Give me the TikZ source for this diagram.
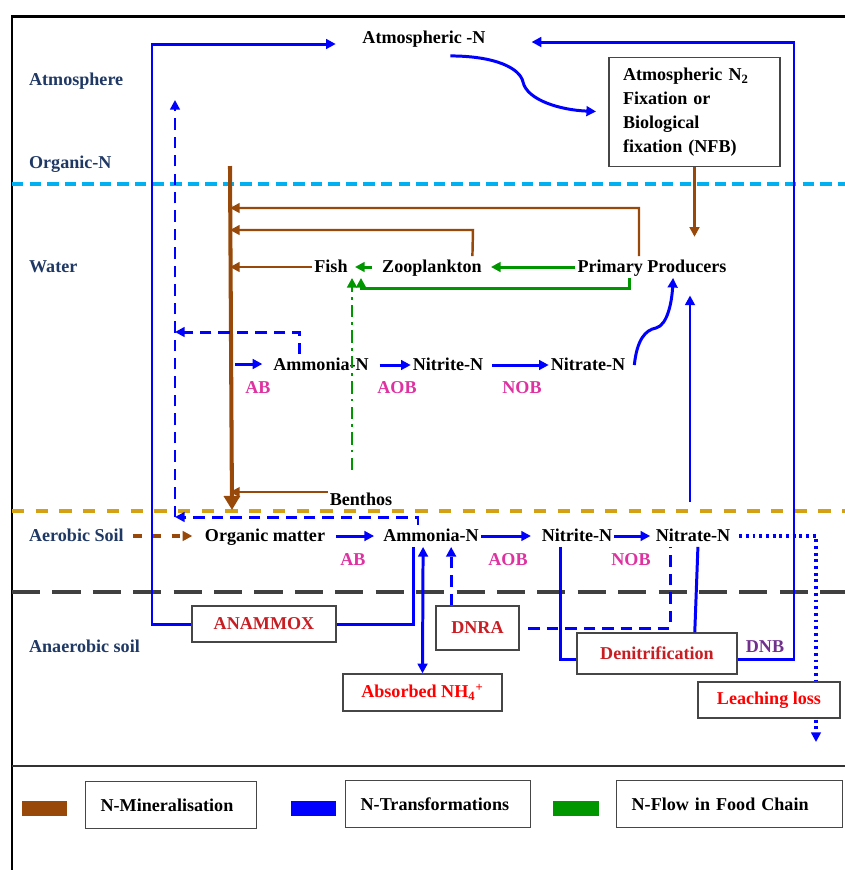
\documentclass[tikz,border=0pt]{standalone}
\usepackage{fontspec}
\setmainfont{Liberation Serif}
\usetikzlibrary{arrows.meta}

\definecolor{zoneblue}{RGB}{31,56,100}
\definecolor{bactpink}{RGB}{222,50,160}
\definecolor{minbrown}{RGB}{152,72,8}
\definecolor{fcgreen}{RGB}{0,150,0}
\definecolor{skycyan}{RGB}{0,176,240}
\definecolor{soilgold}{RGB}{212,160,20}
\definecolor{darkred}{RGB}{200,30,35}
\definecolor{dnbpurple}{RGB}{112,48,140}
\definecolor{boxgray}{RGB}{70,70,70}

\tikzset{
  lbl/.style={font=\bfseries\fontsize{10.3}{12}\selectfont, inner sep=1pt, text height=8pt, text depth=2pt},
  zone/.style={lbl, text=zoneblue, anchor=west},
  bact/.style={lbl, text=bactpink},
  procbox/.style={draw=boxgray, line width=0.75pt, fill=white, font=\bfseries\fontsize{10.3}{12}\selectfont, inner sep=1pt},
  legbox/.style={draw=boxgray, line width=0.75pt, anchor=north west, minimum height=0.94cm, align=left, inner xsep=0.3cm, font=\bfseries\fontsize{10.3}{12}\selectfont},
  tr/.style={blue, line width=1.7pt},
  trdash/.style={tr, dash pattern=on 6.5pt off 4pt},
  trdot/.style={tr, line width=2pt, dash pattern=on 1.6pt off 2.2pt},
  mn/.style={minbrown, line width=1.4pt},
  fc/.style={fcgreen, line width=1.7pt},
  arrowed/.style={-{Triangle[length=5.5pt,width=5.5pt]}},
  bothways/.style={{Triangle[length=5.5pt,width=5.5pt]}-{Triangle[length=5.5pt,width=5.5pt]}},
}

\begin{document}
\begin{tikzpicture}[x=0.02cm, y=-0.02cm]
\useasboundingbox (0,0) rectangle (845,870);

% ramka
\draw[line width=1.7pt] (845,16) -- (12,16) -- (12,870);
\draw[line width=1.3pt, black!80] (12,766) -- (845,766);

% granice warstw
\draw[skycyan, line width=2.3pt, dash pattern=on 6.5pt off 3.5pt] (12,184) -- (845,184);
\draw[soilgold, line width=2.3pt, dash pattern=on 7pt off 6.5pt] (12,511) -- (845,511);
\draw[black!75, line width=2.3pt, dash pattern=on 16pt off 7pt] (12,592) -- (845,592);

% ---------- Warstwy ----------
\node[zone] (zAtm) at (27,80) {Atmosphere};
\node[zone] (zOrg) at (27,163) {Organic-N};
\node[zone] (zWat) at (27,267) {Water};
\node[zone] (zAer) at (27,536) {Aerobic Soil};
\node[zone] (zAna) at (27,647) {Anaerobic soil};

% ---------- Atmosfera ----------
\node[lbl] (atmN) at (424,38) {Atmospheric -N};
\node[procbox, minimum width=3.42cm, minimum height=2.18cm, align=left, text width=2.86cm, inner xsep=0.28cm,
      font=\bfseries\fontsize{10.3}{13.6}\selectfont] (nfb) at (694.5,112)
  {Atmospheric N\textsubscript{2}\\Fixation or\\Biological\\fixation (NFB)};

% ---------- Woda ----------
\node[lbl] (fish) at (331,267) {Fish};
\node[lbl] (zoo) at (432,267) {Zooplankton};
\node[lbl] (pp) at (652,267) {Primary Producers};
\node[lbl] (amW) at (321,365) {Ammonia-N};
\node[lbl] (niW) at (448,365) {Nitrite-N};
\node[lbl] (naW) at (588,365) {Nitrate-N};
\node[bact] (abW) at (258,388) {AB};
\node[bact] (aobW) at (397,388) {AOB};
\node[bact] (nobW) at (522,388) {NOB};
\node[lbl] (benthos) at (361,500) {Benthos};

% ---------- Gleba ----------
\node[lbl] (om) at (265,536) {Organic matter};
\node[lbl] (amS) at (431,536) {Ammonia-N};
\node[lbl] (niS) at (577,536) {Nitrite-N};
\node[lbl] (naS) at (693,536) {Nitrate-N};
\node[bact] (abS) at (353,560) {AB};
\node[bact] (aobS) at (508,560) {AOB};
\node[bact] (nobS) at (631,560) {NOB};
\node[lbl, text=dnbpurple] (dnb) at (765,647) {DNB};

\node[procbox, minimum width=2.88cm, minimum height=0.72cm, text=darkred] (anammox) at (264,624) {ANAMMOX};
\node[procbox, minimum width=1.66cm, minimum height=0.88cm, text=darkred] (dnra) at (477.5,628) {DNRA};
\node[procbox, minimum width=3.18cm, minimum height=0.74cm, text=red] (absorbed) at (422.5,692.5)
  {Absorbed NH\textsubscript{4}\textsuperscript{+}};
\node[procbox, minimum width=3.2cm, minimum height=0.82cm, text=darkred] (denit) at (657,653.5) {Denitrification};

% ---------- Mineralizacja ----------
\coordinate (minTop) at (230,166);
\coordinate (minBot) at (232,510);
\draw[mn, line width=2.3pt, -{Triangle[length=8pt,width=9pt]}] (minTop) -- (minBot);
\coordinate (ppUp) at (639,208);
\draw[mn, arrowed] ([xshift=-7.4pt]pp.north) -- (ppUp) -- (ppUp -| minTop);
\coordinate (zooUp) at (473,230);
\draw[mn, arrowed] ([xshift=23pt]zoo.north) -- (zooUp) -- (zooUp -| minTop);
\draw[mn, arrowed] (fish.west) -- (fish.west -| minTop);
\coordinate (bIn) at ([yshift=4.5pt]benthos.west);
\draw[mn, arrowed] (bIn) -- (bIn -| minTop);
\draw[mn, arrowed, shorten >=11pt] (nfb.south) -- (nfb.south |- pp.north);
\draw[mn, line width=2.3pt, arrowed, dash pattern=on 5pt off 6pt, shorten <=4pt, shorten >=6pt] (zAer.east) -- (om.west);

% ---------- Przemiany N ----------
\coordinate (topL) at (152,44);
\coordinate (topR) at (794,42);
\draw[tr, arrowed, shorten >=14pt] (anammox.west) -| (topL) -- (topL -| atmN.west);
\draw[tr, arrowed, shorten >=25pt] ([yshift=-3.5pt]denit.east) -| (topR) -- (topR -| atmN.east);
\draw[tr, arrowed, shorten >=7pt] ([xshift=15pt,yshift=-4pt]atmN.south)
  .. controls (495,56) and (520,68) .. (523,82)
  .. controls (527,100) and (560,110) .. (nfb.west);
\draw[tr, arrowed] ([xshift=4pt]naW.east)
  .. controls (637,340) and (645,330) .. (656,328)
  .. controls (668,325) and (672,300) .. ([xshift=12pt]pp.south);
\coordinate (ppFeed) at (690,502);
\draw[tr, arrowed, shorten >=10pt] (ppFeed) -- (ppFeed |- pp.south);

% lancuch w wodzie
\coordinate (amWin) at (235,364);
\draw[tr, arrowed, shorten >=5pt] (amWin) -- (amWin -| amW.west);
\draw[tr, arrowed, shorten <=5pt] (amW.east) -- (niW.west);
\draw[tr, arrowed, shorten <=4pt] (niW.east) -- (naW.west);

% lancuch w glebie
\draw[tr, arrowed, shorten <=5pt, shorten >=4pt] (om.east) -- (amS.west);
\draw[tr, arrowed, shorten >=5pt] (amS.east) -- (niS.west);
\draw[tr, arrowed, shorten >=2pt] (niS.east) -- (naS.west);

\draw[tr] ([xshift=-10pt]amS.south) |- (anammox.east);
\draw[tr, bothways] ([xshift=-4.5pt]amS.south) -- (absorbed.north);
\coordinate (dnraUp) at ([xshift=-15pt]dnra.north);
\draw[trdash, arrowed] (dnraUp) -- (dnraUp |- amS.south);
\coordinate (dnraNa) at ([xshift=-13pt]naS.south);
\draw[trdash, shorten <=5pt] (dnra.east) -| (dnraNa);
\draw[tr] ([xshift=-9.6pt]niS.south) |- ([yshift=-3.5pt]denit.west);
\draw[tr] ([xshift=2.8pt]naS.south) -- ([xshift=21.5pt]denit.north);
\coordinate (leachOut) at (816,742);
\draw[trdot, arrowed, shorten <=4pt] (naS.east) -| (leachOut);
\node[procbox, minimum width=2.84cm, minimum height=0.72cm, text=red] (leach) at (769,700) {Leaching loss};

% powrot do atmosfery
\coordinate (retTop) at (175,100);
\coordinate (retMid) at (175,332);
\coordinate (retBot) at (175,517);
\draw[trdash, arrowed] (retBot) -- (retTop);
\draw[trdash, arrowed] ([xshift=-12pt]amW.north) |- (retMid);
\draw[trdash, arrowed] ([xshift=-7.4pt]amS.north) |- (retBot);

% ---------- Lancuch pokarmowy ----------
\draw[fc, arrowed, shorten >=4pt] (pp.west) -- (zoo.east);
\draw[fc, arrowed, shorten <=4.5pt, shorten >=3pt] (zoo.west) -- (fish.east);
\coordinate (fcLoop) at (361,288);
\draw[fc, arrowed] ([xshift=-13pt]pp.south) |- (fcLoop) -- (fcLoop |- fish.south);
\coordinate (fcDot) at (352,470);
\draw[fc, line width=1.7pt, arrowed, dash pattern=on 7pt off 3pt on 1.5pt off 3pt] (fcDot) -- (fcDot |- fish.south);

% ---------- Legenda ----------
\fill[minbrown] (22,801) rectangle (67,816);
\node[legbox, text width=2.82cm] (legMin) at (85,781) {N-Mineralisation};
\fill[blue] (291,801) rectangle (336,816);
\node[legbox, text width=3.1cm] (legTr) at (345,780) {N-Transformations};
\fill[fcgreen] (553,801) rectangle (599,816);
\node[legbox, text width=3.92cm] (legFc) at (616,780) {N-Flow in Food Chain};

\end{tikzpicture}
\end{document}
